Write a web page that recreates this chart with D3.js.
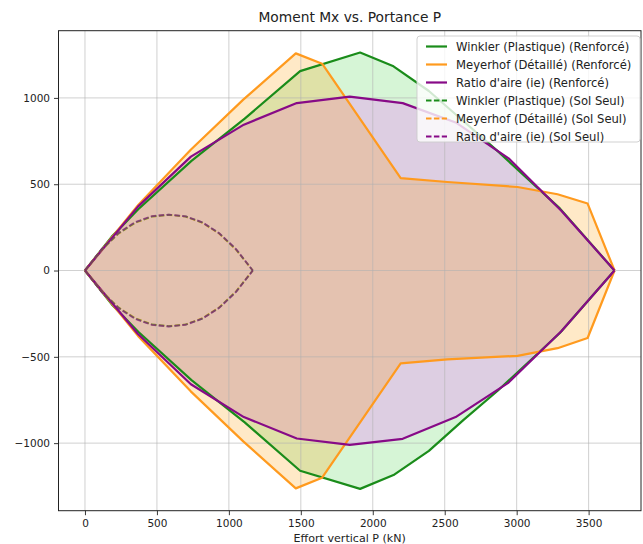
<!DOCTYPE html>
<html>
<head>
<meta charset="utf-8">
<script src="https://cdn.jsdelivr.net/npm/d3@7"></script>
<style>
  body { margin: 0; background: #fff; }
  svg { display: block; font-family: "DejaVu Sans", sans-serif; }
</style>
</head>
<body>
<svg id="chart" width="643" height="544"></svg>
<script>
// ---- Interaction diagram data (P in kN, Mx in kN·m) ----
// Reinforced foundation
const winklerP   = [0, 185, 370, 740, 1110, 1495, 1912, 2144, 2390, 2631, 2870, 3300, 3680];
const winklerUp  = [0, 195, 355, 635, 880, 1155, 1263, 1183, 1040, 865, 690, 360, 0];
const winklerLow = [0, -195, -355, -635, -880, -1160, -1265, -1185, -1045, -865, -695, -362, 0];

const meyerhofP   = [0, 370, 735, 1100, 1465, 1648, 2194, 2518, 3006, 3284, 3493, 3680];
const meyerhofUp  = [0, 380, 700, 990, 1258, 1198, 535, 513, 484, 442, 388, 0];
const meyerhofLow = [0, -380, -700, -990, -1262, -1200, -538, -515, -494, -450, -391, 0];

const ratioP   = [0, 368, 736, 1104, 1472, 1840, 2208, 2576, 2944, 3312, 3680];
const ratioUp  = [0, 370, 660, 845, 970, 1008, 970, 858, 650, 345, 0];
const ratioLow = [0, -368, -659, -849, -973, -1010, -975, -849, -649, -350, 0];

// Soil alone
const solP          = [0, 117, 233, 350, 466, 583, 700, 816, 933, 1050, 1166];
const winklerSolUp  = [0, 122, 215, 278, 313, 323, 313, 278, 215, 122, 0];
const winklerSolLow = [0, -122, -215, -278, -313, -323, -313, -278, -215, -122, 0];
const meyerhofSolUp  = [0, 120, 213, 276, 312, 322, 312, 276, 213, 120, 0];
const meyerhofSolLow = [0, -120, -213, -276, -312, -322, -312, -276, -213, -120, 0];
const ratioSolUp  = [0, 125, 218, 281, 315, 324, 314, 279, 216, 124, 0];
const ratioSolLow = [0, -125, -218, -281, -315, -324, -314, -279, -216, -124, 0];

const xTicks = [0, 500, 1000, 1500, 2000, 2500, 3000, 3500];
const yTicks = [-1000, -500, 0, 500, 1000];

const titleText = "Moment Mx vs. Portance P";
const xLabelText = "Effort vertical P (kN)";

// ---- series table ----
const series = [
  { name: "Winkler (Plastique) (Renforcé)", P: winklerP, up: winklerUp, low: winklerLow, key: "green", dashed: false },
  { name: "Meyerhof (Détaillé) (Renforcé)", P: meyerhofP, up: meyerhofUp, low: meyerhofLow, key: "orange", dashed: false },
  { name: "Ratio d'aire (ie) (Renforcé)", P: ratioP, up: ratioUp, low: ratioLow, key: "purple", dashed: false },
  { name: "Winkler (Plastique) (Sol Seul)", P: solP, up: winklerSolUp, low: winklerSolLow, key: "green", dashed: true },
  { name: "Meyerhof (Détaillé) (Sol Seul)", P: solP, up: meyerhofSolUp, low: meyerhofSolLow, key: "orange", dashed: true },
  { name: "Ratio d'aire (ie) (Sol Seul)", P: solP, up: ratioSolUp, low: ratioSolLow, key: "purple", dashed: true }
];

const lineColor = { green: "#1a8c1a", orange: "#ff9a1e", purple: "#870a87" };
const fillColor = { green: "#32cd32", orange: "#ff9a00", purple: "#f074ff" };
const fillAlpha = { green: 0.2, orange: 0.22, purple: 0.3 };

// ---- layout ----
const W = 643, H = 544;
const plot = { left: 58.5, right: 641, top: 30.7, bottom: 510.7 };

const allP = series.flatMap(s => s.P);
const allM = series.flatMap(s => s.up.concat(s.low));
const [pMin, pMax] = d3.extent(allP);
const [mMin, mMax] = d3.extent(allM);
const padP = (pMax - pMin) * 0.05, padM = (mMax - mMin) * 0.05;

const x = d3.scaleLinear().domain([pMin - padP, pMax + padP]).range([plot.left, plot.right]);
const y = d3.scaleLinear().domain([mMin - padM, mMax + padM]).range([plot.bottom, plot.top]);

const svg = d3.select("#chart");
svg.append("rect").attr("width", W).attr("height", H).attr("fill", "#fff");

const toPts = s => s.P.map((p, i) => ({ p, up: s.up[i], low: s.low[i] }));

// translucent fills of the reinforced envelopes
const area = d3.area().x(d => x(d.p)).y0(d => y(d.low)).y1(d => y(d.up));
const fillOrder = ["green", "purple", "orange"];
const gFill = svg.append("g");
fillOrder.forEach(k => {
  const s = series.find(d => d.key === k && !d.dashed);
  gFill.append("path").attr("d", area(toPts(s)))
    .attr("fill", fillColor[k]).attr("fill-opacity", fillAlpha[k]).attr("stroke", "none");
});

// grid
const gGrid = svg.append("g").attr("stroke", "#b0b0b0").attr("stroke-opacity", 0.75).attr("stroke-width", 0.8);
xTicks.forEach(t => gGrid.append("line").attr("x1", x(t)).attr("x2", x(t)).attr("y1", plot.top).attr("y2", plot.bottom));
yTicks.forEach(t => gGrid.append("line").attr("y1", y(t)).attr("y2", y(t)).attr("x1", plot.left).attr("x2", plot.right));

// curves: upper and lower branch of each envelope
const lineOf = acc => d3.line().x(d => x(d.p)).y(d => y(acc(d)));
const gLines = svg.append("g").attr("fill", "none").attr("stroke-linejoin", "round");
const lineOrder = [0, 1, 2, 4, 3, 5];
lineOrder.forEach(i => {
  const s = series[i];
  const pts = toPts(s);
  [d => d.up, d => d.low].forEach(acc => {
    const p = gLines.append("path").attr("d", lineOf(acc)(pts))
      .attr("stroke", lineColor[s.key])
      .attr("stroke-width", s.dashed ? 1.9 : 2.2);
    if (s.dashed) p.attr("stroke-dasharray", "5.5,2.4").attr("stroke-opacity", 0.6);
  });
});

// axes
const xAxis = d3.axisBottom(x).tickValues(xTicks).tickSize(4.5).tickPadding(4).tickFormat(d3.format("d"));
const yAxis = d3.axisLeft(y).tickValues(yTicks).tickSize(4.5).tickPadding(4).tickFormat(d3.format("d"));
const gx = svg.append("g").attr("transform", `translate(0,${plot.bottom})`).call(xAxis);
const gy = svg.append("g").attr("transform", `translate(${plot.left},0)`).call(yAxis);
[gx, gy].forEach(g => {
  g.select(".domain").remove();
  g.selectAll("line").attr("stroke", "#222").attr("stroke-width", 0.9);
  g.selectAll("text").attr("fill", "#222").attr("font-size", "10.5px")
    .attr("font-family", "DejaVu Sans, sans-serif");
});

// frame
svg.append("rect").attr("x", plot.left).attr("y", plot.top)
  .attr("width", plot.right - plot.left).attr("height", plot.bottom - plot.top)
  .attr("fill", "none").attr("stroke", "#222").attr("stroke-width", 1);

// title and axis label
svg.append("text").attr("x", (plot.left + plot.right) / 2).attr("y", 22)
  .attr("text-anchor", "middle").attr("font-size", "13.8px").attr("fill", "#222").text(titleText);
svg.append("text").attr("x", (plot.left + plot.right) / 2).attr("y", 542)
  .attr("text-anchor", "middle").attr("font-size", "11.1px").attr("fill", "#222").text(xLabelText);

// legend
const leg = { x: 417, y: 36, w: 223, h: 106, row: 18, first: 10.5 };
const gLeg = svg.append("g");
gLeg.append("rect").attr("x", leg.x).attr("y", leg.y).attr("width", leg.w).attr("height", leg.h)
  .attr("rx", 3).attr("fill", "#fff").attr("fill-opacity", 0.8)
  .attr("stroke", "#cccccc").attr("stroke-width", 0.9);
series.forEach((s, i) => {
  const cy = leg.y + leg.first + i * leg.row;
  const l = gLeg.append("line").attr("x1", leg.x + 9).attr("x2", leg.x + 30)
    .attr("y1", cy).attr("y2", cy).attr("stroke", lineColor[s.key])
    .attr("stroke-width", s.dashed ? 1.9 : 2.2);
  if (s.dashed) l.attr("stroke-dasharray", "5.5,2.4");
  gLeg.append("text").attr("x", leg.x + 39).attr("y", cy).attr("dy", "0.35em")
    .attr("font-size", "11.6px").attr("fill", "#222").text(s.name);
});
</script>
</body>
</html>
